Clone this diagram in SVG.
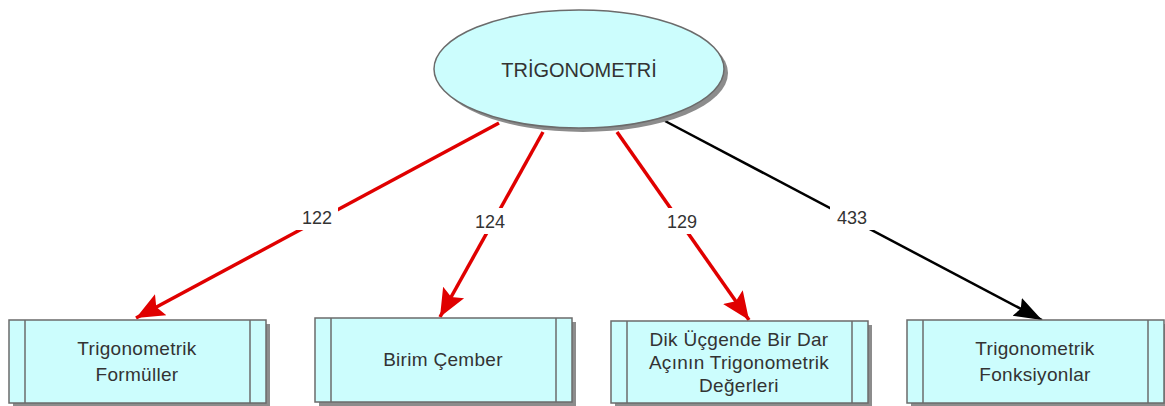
<svg xmlns="http://www.w3.org/2000/svg" width="1165" height="406" viewBox="0 0 1165 406">
<defs>
<style>
.box{fill:#ccfdfd;stroke:#6b6b6b;stroke-width:1.5}
.sh{fill:#8c8c8c}
.bar{stroke:#6b6b6b;stroke-width:1.5}
.t{font-family:"Liberation Sans",Arial,sans-serif;font-size:19px;letter-spacing:0.3px;fill:#333;text-anchor:middle}
.lbl{font-family:"Liberation Sans",Arial,sans-serif;font-size:18px;fill:#333;text-anchor:middle}
.red{stroke:#e00000;stroke-width:3.5;fill:none}
.blk{stroke:#000;stroke-width:2.5;fill:none}
</style>
<marker id="ar" markerUnits="userSpaceOnUse" markerWidth="30" markerHeight="30" viewBox="0 0 30 30" refX="28" refY="15" orient="auto">
<path d="M0,3 L28,15 L0,27 L5,15 Z" fill="#e00000"/>
</marker>
<marker id="ab" markerUnits="userSpaceOnUse" markerWidth="30" markerHeight="30" viewBox="0 0 30 30" refX="28" refY="15" orient="auto">
<path d="M0,5 L28,15 L0,25 L4,15 Z" fill="#000"/>
</marker>
</defs>
<g id="connectors">
<line class="red" x1="499" y1="123" x2="136" y2="318" marker-end="url(#ar)"/>
<line class="red" x1="543" y1="132" x2="440" y2="317" marker-end="url(#ar)"/>
<line class="red" x1="617" y1="132" x2="749" y2="320" marker-end="url(#ar)"/>
<line class="blk" x1="665" y1="121" x2="1042" y2="320" marker-end="url(#ab)"/>
<rect x="296" y="204" width="42" height="26" fill="#fff"/>
<text class="lbl" x="317" y="224">122</text>
<rect x="469" y="208" width="42" height="26" fill="#fff"/>
<text class="lbl" x="490" y="228">124</text>
<rect x="661" y="208" width="42" height="26" fill="#fff"/>
<text class="lbl" x="682" y="228">129</text>
<rect x="830" y="204" width="44" height="26" fill="#fff"/>
<text class="lbl" x="852" y="224">433</text>
</g>
<g id="root">
<ellipse class="sh" cx="583" cy="73" rx="145" ry="59"/>
<ellipse cx="579" cy="69" rx="145" ry="59" fill="#ccfdfd" stroke="#6b6b6b" stroke-width="1.5"/>
<text class="t" x="579" y="77" style="font-size:20px;letter-spacing:0">TRİGONOMETRİ</text>
</g>
<g id="n1">
<rect class="sh" x="13" y="324" width="257" height="83"/>
<rect class="box" x="9" y="320" width="257" height="83"/>
<line class="bar" x1="25" y1="320" x2="25" y2="403"/>
<line class="bar" x1="250" y1="320" x2="250" y2="403"/>
<text class="t" x="137" y="355">Trigonometrik</text>
<text class="t" x="137" y="381">Formüller</text>
</g>
<g id="n2">
<rect class="sh" x="319" y="322" width="257" height="84"/>
<rect class="box" x="315" y="318" width="257" height="84"/>
<line class="bar" x1="331" y1="318" x2="331" y2="402"/>
<line class="bar" x1="556" y1="318" x2="556" y2="402"/>
<text class="t" x="443" y="366">Birim Çember</text>
</g>
<g id="n3">
<rect class="sh" x="615" y="325" width="257" height="82"/>
<rect class="box" x="611" y="321" width="257" height="82"/>
<line class="bar" x1="627" y1="321" x2="627" y2="403"/>
<line class="bar" x1="852" y1="321" x2="852" y2="403"/>
<text class="t" x="739" y="346">Dik Üçgende Bir Dar</text>
<text class="t" x="739" y="369">Açının Trigonometrik</text>
<text class="t" x="739" y="392">Değerleri</text>
</g>
<g id="n4">
<rect class="sh" x="911" y="324" width="257" height="83"/>
<rect class="box" x="907" y="320" width="257" height="83"/>
<line class="bar" x1="923" y1="320" x2="923" y2="403"/>
<line class="bar" x1="1148" y1="320" x2="1148" y2="403"/>
<text class="t" x="1035" y="355">Trigonometrik</text>
<text class="t" x="1035" y="381">Fonksiyonlar</text>
</g>
</svg>
